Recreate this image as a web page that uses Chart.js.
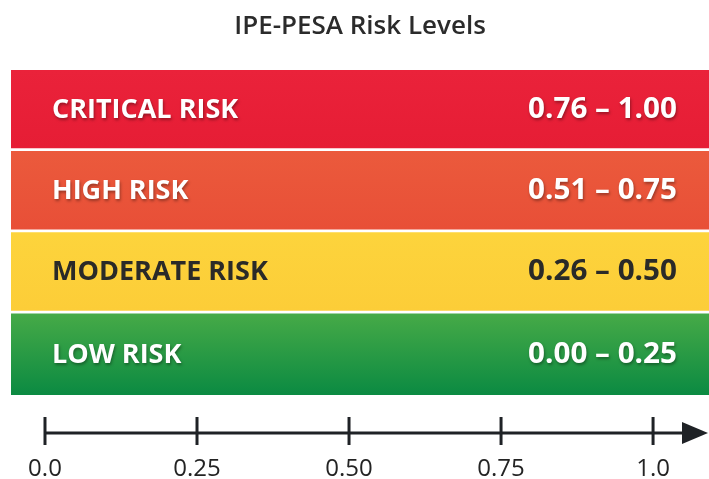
<!DOCTYPE html>
<html>
<head>
<meta charset="utf-8">
<script src="https://cdn.jsdelivr.net/npm/chart.js@4.4.1/dist/chart.umd.min.js"></script>
<style>
  html, body { margin: 0; padding: 0; background: #ffffff; }
  canvas { display: block; }
</style>
</head>
<body>
<canvas id="riskChart" width="709" height="479"></canvas>
<script>
// Risk bands, listed from lowest to highest
const levels = ['LOW RISK', 'MODERATE RISK', 'HIGH RISK', 'CRITICAL RISK'];
const lowerBounds = [0.00, 0.26, 0.51, 0.76];
const upperBounds = [0.25, 0.50, 0.75, 1.00];

// Score axis under the bands
const scaleTicks = [0, 0.25, 0.5, 0.75, 1.0];
const scaleTickLabels = ['0.0', '0.25', '0.50', '0.75', '1.0'];

// Band fills (top colour, bottom colour) and label colours
const bandColors = [
  ['#46aa47', '#0b8a42'],
  ['#fdd43c', '#fccd38'],
  ['#eb5a3c', '#e84f37'],
  ['#ea223a', '#e61d35']
];
const labelColors = ['#ffffff', '#2a2a28', '#ffffff', '#ffffff'];

// The score axis is wider than the area its ticks cover
const SCORE_MIN = -0.0559;
const SCORE_MAX = 1.092;

function bandFill(i) {
  return (context) => {
    const chart = context.chart;
    const y = chart.scales.y;
    if (!chart.chartArea || !y) return bandColors[i][0];
    const top = y.getPixelForValue(upperBounds[i]);
    const bottom = y.getPixelForValue(lowerBounds[i]);
    const g = chart.ctx.createLinearGradient(0, top, 0, bottom);
    g.addColorStop(0, bandColors[i][0]);
    g.addColorStop(1, bandColors[i][1]);
    return g;
  };
}

// Draws the level name on the left and its range on the right of each band
const bandLabels = {
  id: 'bandLabels',
  afterDatasetsDraw(chart) {
    const { ctx, chartArea } = chart;
    ctx.save();
    ctx.textBaseline = 'middle';
    levels.forEach((name, i) => {
      const el = chart.getDatasetMeta(i).data[0];
      const cy = (el.y + el.base) / 2;
      const range = lowerBounds[i].toFixed(2) + ' \u2013 ' + upperBounds[i].toFixed(2);
      ctx.fillStyle = labelColors[i];
      if (labelColors[i] === '#ffffff') {
        ctx.shadowColor = 'rgba(0,0,0,0.35)';
        ctx.shadowOffsetX = 1;
        ctx.shadowOffsetY = 2;
        ctx.shadowBlur = 3;
      } else {
        ctx.shadowColor = 'transparent';
      }
      ctx.font = 'bold 27px "Open Sans"';
      ctx.textAlign = 'left';
      ctx.fillText(name, chartArea.left + 41, cy + 1);

      // range text, slightly widened
      ctx.save();
      ctx.font = 'bold 28px "Open Sans"';
      ctx.textAlign = 'right';
      ctx.translate(chartArea.right - 32, cy + 1);
      ctx.scale(1.06, 1);
      ctx.fillText(range, 0, 0);
      ctx.restore();
    });
    ctx.restore();
  }
};

// Draws the score axis line with tick marks and an arrow head
const scoreAxis = {
  id: 'scoreAxis',
  afterDraw(chart) {
    const { ctx } = chart;
    const s = chart.scales.score;
    const lineY = 433;
    const x0 = s.getPixelForValue(scaleTicks[0]);
    const tipX = chart.width - 1;
    ctx.save();
    ctx.strokeStyle = '#1f2226';
    ctx.fillStyle = '#1f2226';
    ctx.lineWidth = 3;
    ctx.beginPath();
    ctx.moveTo(x0, lineY);
    ctx.lineTo(tipX - 20, lineY);
    ctx.stroke();
    scaleTicks.forEach(v => {
      const x = s.getPixelForValue(v);
      ctx.beginPath();
      ctx.moveTo(x, lineY - 16);
      ctx.lineTo(x, lineY + 12);
      ctx.stroke();
    });
    ctx.beginPath();
    ctx.moveTo(tipX, lineY);
    ctx.lineTo(tipX - 26, lineY - 11);
    ctx.lineTo(tipX - 26, lineY + 11);
    ctx.closePath();
    ctx.fill();
    ctx.restore();
  }
};

new Chart(document.getElementById('riskChart'), {
  type: 'bar',
  data: {
    labels: ['score'],
    datasets: levels.map((name, i) => ({
      label: name,
      data: [[lowerBounds[i], upperBounds[i]]],
      backgroundColor: bandFill(i),
      borderWidth: 0,
      borderSkipped: false,
      grouped: false,
      barPercentage: 1,
      categoryPercentage: 1
    }))
  },
  options: {
    responsive: false,
    animation: false,
    devicePixelRatio: 1,
    layout: { padding: { left: 11, right: 0, top: 0, bottom: 0 } },
    plugins: {
      legend: { display: false },
      tooltip: { enabled: false },
      title: {
        display: true,
        text: 'IPE-PESA Risk Levels',
        color: '#2b2b2b',
        font: { family: '"Open Sans"', size: 26, weight: '600' },
        padding: { top: 11, bottom: 27.8 }
      }
    },
    scales: {
      x: { display: false },
      y: { display: false, min: 0, max: 1 },
      score: {
        type: 'linear',
        position: 'bottom',
        axis: 'x',
        offset: false,
        bounds: 'data',
        min: SCORE_MIN,
        max: SCORE_MAX,
        afterBuildTicks(scale) {
          scale.ticks = scaleTicks.map(v => ({ value: v }));
        },
        afterFit(scale) {
          scale.height = 84;
          // labels sit well inside the plot width; no side padding needed
          scale.paddingLeft = 0;
          scale.paddingRight = 0;
        },
        grid: { display: false, drawTicks: false, offset: false },
        border: { display: false },
        ticks: {
          padding: 60,
          color: '#232323',
          font: { family: '"Open Sans"', size: 24, weight: '500' },
          callback: (value, index) => scaleTickLabels[index]
        }
      }
    }
  },
  plugins: [bandLabels, scoreAxis]
});
</script>
</body>
</html>
